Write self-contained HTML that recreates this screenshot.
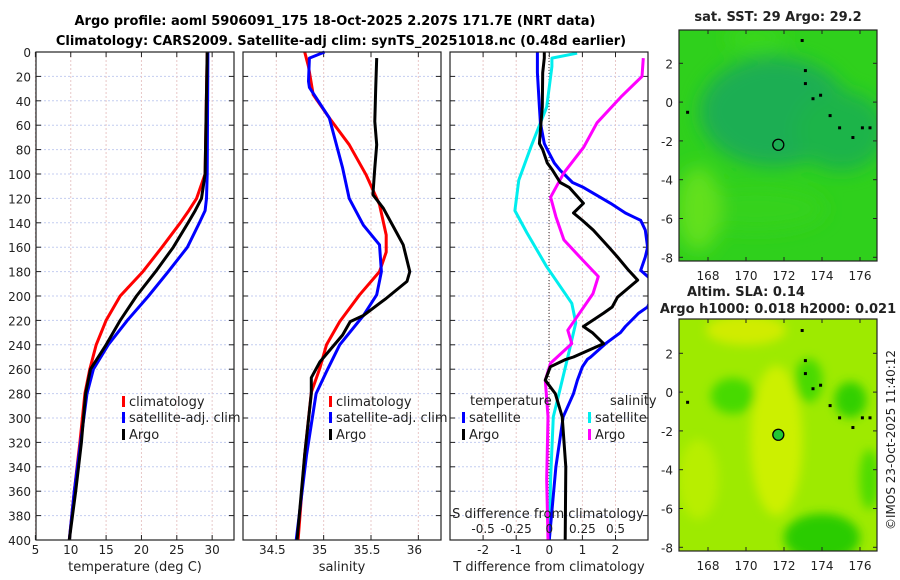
<!DOCTYPE html>
<html><head><meta charset="utf-8"><style>
html,body{margin:0;padding:0;background:#fff;}
svg{display:block;font-family:"DejaVu Sans","Liberation Sans",sans-serif;}
</style></head><body>
<svg id="fig" width="900" height="580" viewBox="0 0 900 580" xmlns="http://www.w3.org/2000/svg">
<defs>
<filter id="blur" x="-50%" y="-50%" width="200%" height="200%"><feGaussianBlur stdDeviation="9"/></filter>
<filter id="blur2" x="-50%" y="-50%" width="200%" height="200%"><feGaussianBlur stdDeviation="5"/></filter>
<clipPath id="cm1"><rect x="679" y="30" width="198" height="231"/></clipPath>
<clipPath id="cm2"><rect x="679" y="319" width="198" height="232"/></clipPath>
</defs>
<g id="titles">
<text x="335" y="25" text-anchor="middle" font-size="13" font-weight="bold">Argo profile: aoml 5906091_175 18-Oct-2025 2.207S 171.7E (NRT data)</text>
<text x="341" y="45" text-anchor="middle" font-size="13" font-weight="bold">Climatology: CARS2009. Satellite-adj clim: synTS_20251018.nc (0.48d earlier)</text>
</g>
<g id="plots"></g>
<g id="maps"></g>
<text transform="translate(895,440) rotate(-90)" text-anchor="middle" font-size="12" fill="#222">©IMOS 23-Oct-2025 11:40:12</text>
</svg>
<script>
const NS="http://www.w3.org/2000/svg";
// ---- data ----
const depthTicks=[0,20,40,60,80,100,120,140,160,180,200,220,240,260,280,300,320,340,360,380,400];
const tempTicks=[5,10,15,20,25,30];
const salTicks=[34.5,35,35.5,36];
const tdiffTicks=[-2,-1,0,1,2];
const sdiffTicks=[-0.5,-0.25,0,0.25,0.5];
const sdiffTickLabels=["-0.5","-0.25","0","0.25","0.5"];
const depths=[0,100,120,130,140,160,180,200,220,240,260,280,320,360,400];
const tempClim=[29.3,29.0,27.8,26.7,25.5,22.9,20.2,17.0,15.0,13.6,12.7,12.0,11.3,10.5,9.8];
const tempSat=[29.4,29.3,29.2,29.0,28.2,26.5,23.8,21.0,18.0,15.3,13.2,12.3,11.4,10.5,9.8];
const tempArgo=[29.3,29.0,28.5,27.6,26.6,24.5,22.0,19.3,17.0,15.0,12.8,12.1,11.5,10.7,9.8];
const salClimD=[0,12,35,54,76,101,125,150,164,180,199,221,240,259,279,330,400];
const salClim=[34.80,34.84,34.89,35.06,35.27,35.45,35.59,35.66,35.66,35.59,35.38,35.17,35.03,34.96,34.87,34.80,34.73];
const salSatD=[0,5,24,29,54,95,120,142,158,180,199,216,240,262,280,330,400];
const salSat=[35.01,34.85,34.84,34.85,35.06,35.20,35.27,35.42,35.59,35.61,35.56,35.42,35.17,35.03,34.92,34.82,34.71];
const salArgoD=[5,30,57,66,76,95,117,128,148,158,180,188,202,216,221,232,254,267,280,330,400];
const salArgo=[35.56,35.55,35.54,35.55,35.56,35.54,35.52,35.63,35.77,35.84,35.91,35.88,35.66,35.42,35.28,35.20,34.96,34.87,34.87,34.80,34.72];
const tdDepths=[0,5,17,45,58,75,80,91,97,107,111,124,132,138,146,160,168,179,187,201,209,214,225,230,239,250,252,258,269,280,299,340,400];
const tdSat=[-0.36,-0.36,-0.36,-0.3,-0.27,-0.15,-0.06,0.15,0.33,0.7,1.03,1.85,2.3,2.76,2.9,2.97,2.9,2.76,3.1,3.1,2.97,2.7,2.3,2.15,1.7,1.25,1.15,1.0,0.85,0.73,0.42,0.2,0.0];
const tdArgo=[-0.15,-0.15,-0.2,-0.21,-0.25,-0.3,-0.2,-0.06,0.1,0.33,0.6,1.03,0.73,1.0,1.33,1.8,2.06,2.4,2.67,2.06,1.9,1.64,1.03,1.3,1.64,0.73,0.5,0.03,-0.12,0.18,0.39,0.5,0.48];
const sdDepths=[1,5,12,45,78,105,130,148,176,206,222,250,277,299,350,400];
const sdSat=[0.21,0.02,0.02,-0.02,-0.14,-0.23,-0.26,-0.17,-0.02,0.17,0.2,0.14,0.08,0.03,0.01,0.0];
const sdDepthsArgo=[5,20,37,58,78,99,119,135,154,168,184,198,217,228,239,255,269,299,350,400];
const sdArgo=[0.71,0.7,0.54,0.36,0.26,0.11,0.01,0.05,0.11,0.23,0.37,0.33,0.21,0.14,0.17,0.01,-0.03,-0.01,-0.02,-0.01];
const lonTicks=[168,170,172,174,176];
const latTicks=[2,0,-2,-4,-6,-8];
const argoLon=171.7, argoLat=-2.2;
const islandLon=[172.93,173.1,173.1,173.5,173.9,174.4,174.9,175.6,176.1,176.5,166.9];
const islandLat=[3.2,1.65,0.98,0.2,0.38,-0.67,-1.3,-1.8,-1.3,-1.3,-0.5];

const plots=document.getElementById('plots');
function el(tag,attrs,parent){const e=document.createElementNS(NS,tag);for(const k in attrs)e.setAttribute(k,attrs[k]);(parent||plots).appendChild(e);return e;}
function txt(x,y,s,size,anchor,parent,fill){const t=el('text',{x:x,y:y,'font-size':size,'text-anchor':anchor||'middle',fill:fill||'#222'},parent);t.textContent=s;return t;}

const TOP=52,BOT=540;
const yD=d=>TOP+(BOT-TOP)*d/400;
function panel(name){
  const g=el('g',{});
  
  
  return g;
}
function grid(g,x0,x1,xs){
  depthTicks.forEach(d=>{const l=el('line',{x1:x0,x2:x1,y1:yD(d),y2:yD(d),stroke:'#c4cdf0','stroke-width':1,'stroke-dasharray':'2,2'},g);
    el('line',{x1:x0,x2:x0+5,y1:yD(d),y2:yD(d),stroke:'#222'},g);el('line',{x1:x1-5,x2:x1,y1:yD(d),y2:yD(d),stroke:'#222'},g);});
  xs.forEach(x=>{const l=el('line',{x1:x,x2:x,y1:TOP,y2:BOT,stroke:'#e8c8c8','stroke-width':1,'stroke-dasharray':'2,2'},g);
    el('line',{x1:x,x2:x,y1:BOT,y2:BOT-5,stroke:'#222'},g);el('line',{x1:x,x2:x,y1:TOP,y2:TOP+5,stroke:'#222'},g);});
}
function frame(g,x0,x1){const r=el('rect',{x:x0,y:TOP,width:x1-x0,height:BOT-TOP,fill:'none',stroke:'#222','stroke-width':1.2},g);}
function line(g,xf,vals,ds,color,name,clip){
  const pts=vals.map((v,i)=>xf(v).toFixed(1)+','+yD(ds[i]).toFixed(1)).join(' ');
  const p=el('polyline',{points:pts,fill:'none',stroke:color,'stroke-width':3,'stroke-linejoin':'round','clip-path':clip||''},g);
  
  
}
function legendEntry(g,x,y,color,label,name){
  const gg=el('g',{},g);
  
  
  el('rect',{x:x,y:y-10,width:3,height:11,fill:color},gg);
  txt(x+7,y,label,13,'start',gg);
}

// panel 1: temperature
const xT=t=>35.4+(t-5)*7.07;
const g1=panel('temperature-panel');
grid(g1,36,234,tempTicks.map(xT));
line(g1,xT,tempClim,depths,'#f00','climatology-temp-line');
line(g1,xT,tempSat,depths,'#00f','satellite-temp-line');
line(g1,xT,tempArgo,depths,'#000','argo-temp-line');
frame(g1,36,234);
depthTicks.forEach(d=>{const t=txt(31,yD(d)+5,String(d),12,'end',g1);});
tempTicks.forEach(v=>{const t=txt(xT(v),554,String(v),12,'middle',g1);});
const xt1=txt(135,571,'temperature (deg C)',13,'middle',g1);
legendEntry(g1,122,406,'#f00','climatology','legend-climatology');
legendEntry(g1,122,422,'#00f','satellite-adj. clim','legend-satellite-adj');
legendEntry(g1,122,439,'#000','Argo','legend-argo');

// panel 2: salinity
const xS=s=>276.3+(s-34.5)*94.7;
const g2=panel('salinity-panel');
grid(g2,243,441,salTicks.map(xS));
line(g2,xS,salClim,salClimD,'#f00','climatology-sal-line');
line(g2,xS,salSat,salSatD,'#00f','satellite-sal-line');
line(g2,xS,salArgo,salArgoD,'#000','argo-sal-line');
frame(g2,243,441);
salTicks.forEach(v=>{const t=txt(xS(v)-4,554,String(v),12,'middle',g2);});
const xt2=txt(342,571,'salinity',13,'middle',g2);
legendEntry(g2,329,406,'#f00','climatology','legend-climatology-2');
legendEntry(g2,329,422,'#00f','satellite-adj. clim','legend-satellite-adj-2');
legendEntry(g2,329,439,'#000','Argo','legend-argo-2');

// panel 3: differences
const xTD=t=>549.3+t*33.1;
const xSD=s=>549.3+s*132.4;
const g3=panel('difference-panel');
const cp=el('clipPath',{id:'c3'},g3);el('rect',{x:450,y:TOP,width:198,height:BOT-TOP},cp);
grid(g3,450,648,tdiffTicks.map(xTD));
const z=el('line',{x1:549,x2:549,y1:TOP,y2:BOT,stroke:'#333','stroke-width':1,'stroke-dasharray':'1,2'},g3);
line(g3,xSD,sdSat,sdDepths,'#00eeee','satellite-sal-diff-line','url(#c3)');
line(g3,xTD,tdSat,tdDepths,'#00f','satellite-temp-diff-line','url(#c3)');
line(g3,xSD,sdArgo,sdDepthsArgo,'#f0f','argo-sal-diff-line','url(#c3)');
line(g3,xTD,tdArgo,tdDepths,'#000','argo-temp-diff-line','url(#c3)');
frame(g3,450,648);
tdiffTicks.forEach(v=>{const t=txt(xTD(v),554,String(v),12,'middle',g3);});
sdiffTicks.forEach((v,i)=>{const t=txt(xSD(v),533,sdiffTickLabels[i],12,'middle',g3);});
const st=txt(548,518,'S difference from climatology',13,'middle',g3);
const tt=txt(549,571,'T difference from climatology',13,'middle',g3);
const lt=txt(470,405,'temperature',13,'start',g3);
const ls=txt(610,405,'salinity',13,'start',g3);
legendEntry(g3,462,422,'#00f','satellite','legend-temp-satellite');
legendEntry(g3,462,439,'#000','Argo','legend-temp-argo');
legendEntry(g3,588,422,'#00eeee','satellite','legend-sal-satellite');
legendEntry(g3,588,439,'#f0f','Argo','legend-sal-argo');

// maps
const maps=document.getElementById('maps');
const xL=l=>708+(l-168)*19.0;
function map(y0,y1,latAt2,title,titleYs,titleXs,name,kind,clipId,lonLabelY){
  const g=el('g',{},maps);
  
  
  const x0=679,x1=877;
  const yL=l=>latAt2+(2-l)*19.4;
  const bg=el('g',{'clip-path':'url(#'+clipId+')'},g);
  if(kind==='sst'){
    el('rect',{x:x0,y:y0,width:x1-x0,height:y1-y0,fill:'#2fd01c'},bg);
    const b=el('g',{filter:'url(#blur)'},bg);
    el('ellipse',{cx:xL(171.5),cy:yL(-0.5),rx:75,ry:55,fill:'#1aae52'},b);
    el('ellipse',{cx:xL(175),cy:yL(-1.5),rx:45,ry:40,fill:'#1db448'},b);
    el('ellipse',{cx:xL(170.5),cy:yL(-5.5),rx:70,ry:22,fill:'#36d21a'},b);
    el('ellipse',{cx:xL(167.5),cy:yL(-5.5),rx:22,ry:42,fill:'#62e01c'},b);
    el('ellipse',{cx:xL(170.5),cy:yL(3.3),rx:30,ry:10,fill:'#3ad81a'},b);
  } else {
    el('rect',{x:x0,y:y0,width:x1-x0,height:y1-y0,fill:'#9eea00'},bg);
    const b=el('g',{filter:'url(#blur2)'},bg);
    el('ellipse',{cx:xL(171.6),cy:yL(-2.5),rx:26,ry:75,fill:'#ccf000'},b);
    el('ellipse',{cx:xL(170),cy:yL(3.2),rx:40,ry:15,fill:'#d0ec00'},b);
    el('ellipse',{cx:xL(167.5),cy:yL(-4.5),rx:20,ry:40,fill:'#b8ee00'},b);
    el('ellipse',{cx:xL(169.3),cy:yL(-0.2),rx:22,ry:18,fill:'#46da00'},b);
    el('ellipse',{cx:xL(173.3),cy:yL(0.6),rx:14,ry:22,fill:'#48da00'},b);
    el('ellipse',{cx:xL(175.5),cy:yL(-0.4),rx:16,ry:18,fill:'#30d000'},b);
    el('ellipse',{cx:xL(176.5),cy:yL(-4.5),rx:10,ry:30,fill:'#50dc00'},b);
    el('ellipse',{cx:xL(174),cy:yL(-7.5),rx:38,ry:24,fill:'#2ccc00'},b);
  }
  islandLon.forEach((lo,i)=>{el('rect',{x:xL(lo)-1,y:yL(islandLat[i])-1,width:3,height:3,fill:'#000'},g);});
  const c=el('circle',{cx:xL(argoLon),cy:yL(argoLat),r:5.5,fill:kind==='sst'?'none':'#22c833',stroke:'#000','stroke-width':1.3},g);
  
  
  el('rect',{x:x0,y:y0,width:x1-x0,height:y1-y0,fill:'none',stroke:'#222','stroke-width':1.2},g);
  latTicks.forEach(l=>{el('line',{x1:x0,x2:x0+4,y1:yL(l),y2:yL(l),stroke:'#222'},g);el('line',{x1:x1-4,x2:x1,y1:yL(l),y2:yL(l),stroke:'#222'},g);
    const t=txt(673,yL(l)+5,String(l),12,'end',g);});
  lonTicks.forEach(l=>{el('line',{x1:xL(l),x2:xL(l),y1:y1,y2:y1-4,stroke:'#222'},g);el('line',{x1:xL(l),x2:xL(l),y1:y0,y2:y0+4,stroke:'#222'},g);
    const t=txt(xL(l),lonLabelY,String(l),12,'middle',g);});
  title.forEach((s,i)=>{const t=txt(titleXs[i],titleYs[i],s,13,'middle',g);t.setAttribute('font-weight','bold');});
}
map(30,261,63.3,['sat. SST: 29 Argo: 29.2'],[21],[778],'sst-map','sst','cm1',280);
map(319,551,353.3,['Altim. SLA: 0.14','Argo h1000: 0.018 h2000: 0.021'],[296,313],[746,778],'sla-map','sla','cm2',570);
</script>
</body></html>
